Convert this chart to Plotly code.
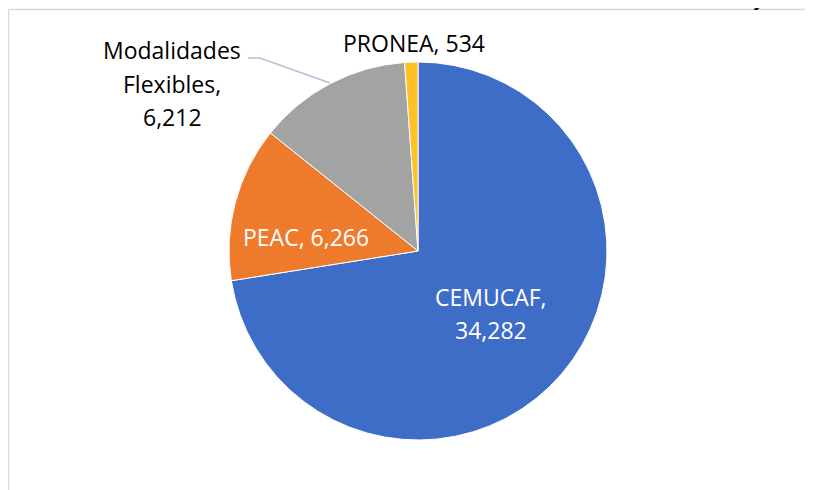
import plotly.graph_objects as go

categories = ["CEMUCAF", "PEAC", "Modalidades Flexibles", "PRONEA"]
values = [34282, 6266, 6212, 534]
colors = ["#3E6DC8", "#EE7A2C", "#A3A3A3", "#FFC125"]

# the page body adds an 8px margin; lay out in window pixels and shift
OFF = 8
W, H = 813 - OFF, 490 - OFF
cx, cy, r = 418 - OFF, 251 - OFF, 189

def px(x):
    return (x - OFF) / W

def py(y):
    return 1 - (y - OFF) / H

fig = go.Figure(go.Pie(
    labels=categories,
    values=values,
    sort=False,
    direction="clockwise",
    rotation=0,
    textinfo="none",
    hoverinfo="label+value",
    marker=dict(colors=colors, line=dict(color="white", width=1)),
    domain=dict(x=[(cx - r) / W, (cx + r) / W], y=[1 - (cy + r) / H, 1 - (cy - r) / H]),
    showlegend=False,
))

FONT = "Open Sans"
FS = 23

def fmt(v):
    return f"{v:,}"

ann = []
def add(text, x, y, color):
    ann.append(dict(text=text, x=px(x), y=py(y), xref="paper", yref="paper",
                    xanchor="center", yanchor="middle", showarrow=False,
                    font=dict(family=FONT, size=FS, color=color)))

# CEMUCAF (inside, white, two lines)
add(categories[0] + ",", 491, 297, "white")
add(fmt(values[0]), 491, 330, "white")
# PEAC (inside, white)
add(f"{categories[1]}, {fmt(values[1])}", 306, 237, "white")
# Modalidades Flexibles (outside, three lines)
w1, w2 = categories[2].split(" ")
add(w1, 172, 50, "black")
add(w2 + ",", 172, 84, "black")
add(fmt(values[2]), 172, 117, "black")
# PRONEA (outside)
add(f"{categories[3]}, {fmt(values[3])}", 414, 43, "black")

# clipped glyph at top right
ann.append(dict(text="y", x=px(760), y=py(13), xref="paper", yref="paper",
                xanchor="center", yanchor="bottom", showarrow=False,
                font=dict(family=FONT, size=FS, color="black")))

shapes = [
    # chart area border (top and left edges visible)
    dict(type="line", xref="paper", yref="paper", x0=px(8.5), y0=py(9.5), x1=1.0, y1=py(9.5),
         line=dict(color="#D9D9D9", width=1.5), layer="below"),
    dict(type="line", xref="paper", yref="paper", x0=px(8.5), y0=py(9.5), x1=px(8.5), y1=0.0,
         line=dict(color="#D9D9D9", width=1.5), layer="below"),
    # leader line
    dict(type="path", xref="paper", yref="paper",
         path=f"M {px(248)} {py(58)} L {px(260)} {py(58)} L {px(330)} {py(83)}",
         line=dict(color="#AFC0D5", width=1.5)),
]

fig.update_layout(
    width=W, height=H,
    margin=dict(l=0, r=0, t=0, b=0),
    paper_bgcolor="white", plot_bgcolor="white",
    annotations=ann, shapes=shapes,
)

fig.write_html("out.html")
